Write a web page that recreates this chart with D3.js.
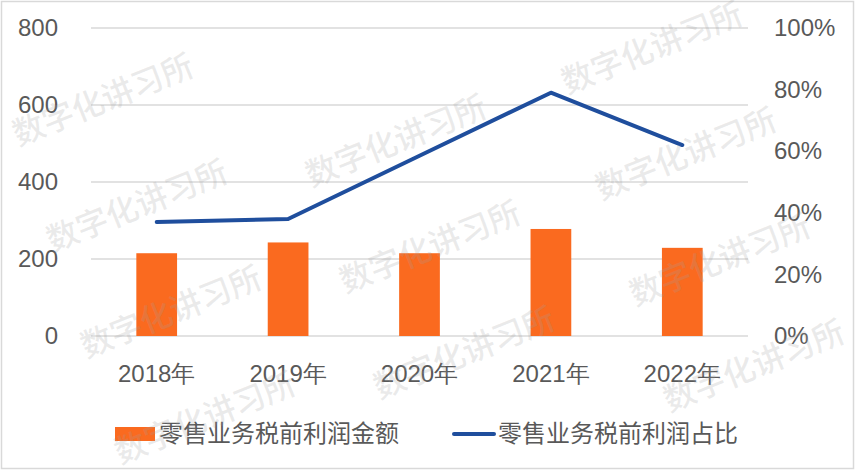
<!DOCTYPE html>
<html>
<head>
<meta charset="utf-8">
<script src="https://cdn.jsdelivr.net/npm/d3@7"></script>
<style>
  html, body { margin: 0; padding: 0; background: #fff; }
  svg { display: block; font-family: "Noto Sans CJK SC", "Noto Sans", sans-serif; }
</style>
</head>
<body>
<div id="chart"></div>
<script>
const years = ["2018年", "2019年", "2020年", "2021年", "2022年"];
const profit = [215, 243, 215, 278, 229];        // 零售业务税前利润金额
const share = [0.37, 0.38, 0.585, 0.79, 0.62];    // 零售业务税前利润占比
const leftTicks = [0, 200, 400, 600, 800];
const rightTicks = [0, 0.2, 0.4, 0.6, 0.8, 1.0];
const barName = "零售业务税前利润金额";
const lineName = "零售业务税前利润占比";
const watermark = "数字化讲习所";

const width = 855, height = 470;
const margin = { top: 28, right: 107, bottom: 134, left: 91 };
const textColor = "#595959";
const barColor = "#fa6a1f";
const lineColor = "#1f4e9d";

const svg = d3.select("#chart").append("svg")
  .attr("width", width)
  .attr("height", height);

svg.append("rect")
  .attr("x", 1.5).attr("y", 1.5)
  .attr("width", width - 3).attr("height", height - 3)
  .attr("fill", "#fff")
  .attr("stroke", "#d9d9d9")
  .attr("stroke-width", 1.5);

const x = d3.scaleBand()
  .domain(years)
  .range([margin.left, width - margin.right])
  .paddingInner(0.69)
  .paddingOuter(0.345);

const yLeft = d3.scaleLinear()
  .domain([0, 800])
  .range([height - margin.bottom, margin.top]);

const yRight = d3.scaleLinear()
  .domain([0, 1])
  .range([height - margin.bottom, margin.top]);

// grid lines
svg.append("g")
  .selectAll("line")
  .data(leftTicks)
  .join("line")
  .attr("x1", margin.left)
  .attr("x2", width - margin.right)
  .attr("y1", d => yLeft(d))
  .attr("y2", d => yLeft(d))
  .attr("stroke", "#d9d9d9")
  .attr("stroke-width", 1.3);

// left axis
const axisL = svg.append("g")
  .attr("transform", `translate(58,0)`)
  .call(d3.axisLeft(yLeft).tickValues(leftTicks).tickSize(0).tickPadding(0));
axisL.select(".domain").remove();
axisL.selectAll("text")
  .attr("fill", textColor)
  .style("font-size", "24px")
  .style("font-family", "inherit");

// right axis
const axisR = svg.append("g")
  .attr("transform", `translate(774,0)`)
  .call(d3.axisRight(yRight).tickValues(rightTicks).tickFormat(d3.format(".0%")).tickSize(0).tickPadding(0));
axisR.select(".domain").remove();
axisR.selectAll("text")
  .attr("fill", textColor)
  .style("font-size", "24px")
  .style("font-family", "inherit");

// bottom axis
const axisB = svg.append("g")
  .attr("transform", `translate(0,${height - margin.bottom})`)
  .call(d3.axisBottom(x).tickSize(0).tickPadding(29));
axisB.select(".domain").remove();
axisB.selectAll("text")
  .attr("fill", textColor)
  .style("font-size", "24px")
  .style("font-family", "inherit");

// bars
svg.append("g")
  .selectAll("rect")
  .data(years.map((name, i) => ({ name, value: profit[i] })))
  .join("rect")
  .attr("x", d => x(d.name))
  .attr("y", d => yLeft(d.value))
  .attr("width", x.bandwidth())
  .attr("height", d => yLeft(0) - yLeft(d.value))
  .attr("fill", barColor);

// line
const line = d3.line()
  .x((d, i) => x(years[i]) + x.bandwidth() / 2)
  .y(d => yRight(d));

svg.append("path")
  .datum(share)
  .attr("d", line)
  .attr("fill", "none")
  .attr("stroke", lineColor)
  .attr("stroke-width", 4)
  .attr("stroke-linejoin", "round")
  .attr("stroke-linecap", "round");

// legend
const legend = svg.append("g").attr("transform", "translate(0,434)");
legend.append("rect")
  .attr("x", 115).attr("y", -7)
  .attr("width", 40).attr("height", 14)
  .attr("fill", barColor);
legend.append("text")
  .attr("x", 159).attr("dy", "0.35em")
  .attr("fill", textColor)
  .style("font-size", "24px")
  .text(barName);
legend.append("line")
  .attr("x1", 454).attr("x2", 494)
  .attr("stroke", lineColor)
  .attr("stroke-width", 4)
  .attr("stroke-linecap", "round");
legend.append("text")
  .attr("x", 498).attr("dy", "0.35em")
  .attr("fill", textColor)
  .style("font-size", "24px")
  .text(lineName);

// watermark (tiled, only the copies that sit mostly inside the frame)
const columns = [[103, 100], [362, 35], [652, 48]];
const step = [34, 106];
const wm = svg.append("g")
  .attr("pointer-events", "none")
  .attr("fill", "#a0a0a0")
  .attr("fill-opacity", 0.22)
  .style("font-size", "32px")
  .style("font-weight", "500");
columns.forEach(([cx, cy]) => {
  for (let k = -1; k <= 4; k++) {
    const px = cx + k * step[0], py = cy + k * step[1];
    if (px < 100 || px > 760 || py < 40 || py > 430) continue;
    wm.append("text")
      .attr("transform", `translate(${px},${py}) rotate(-22)`)
      .attr("text-anchor", "middle")
      .attr("dy", "0.35em")
      .text(watermark);
  }
});
</script>
</body>
</html>
